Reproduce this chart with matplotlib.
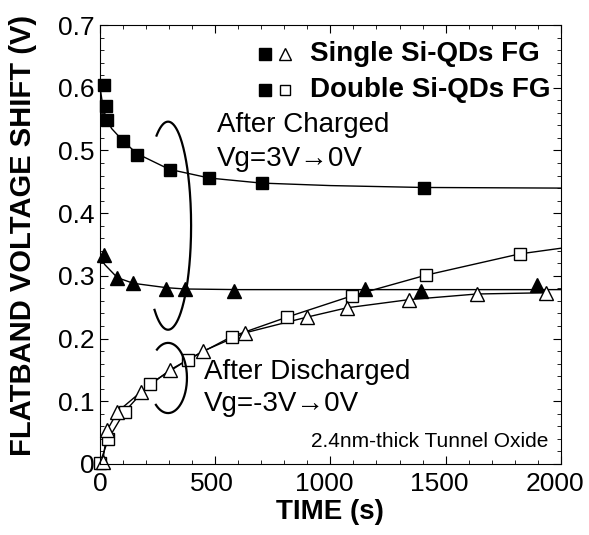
import matplotlib.pyplot as plt
import numpy as np
from matplotlib.ticker import MultipleLocator
from matplotlib.transforms import ScaledTranslation

plt.rcParams['font.family'] = ['Liberation Sans', 'DejaVu Sans']

# charged, double Si-QDs (filled squares)
t_dc = [17, 26, 31, 99, 160, 304, 474, 702, 1405]
v_dc = [0.604, 0.571, 0.549, 0.515, 0.493, 0.469, 0.456, 0.448, 0.440]
# fitted curve
fit_dc_t = [0, 10, 25, 50, 100, 160, 300, 475, 700, 1000, 1400, 2000]
fit_dc_v = [0.600, 0.575, 0.552, 0.535, 0.515, 0.495, 0.470, 0.456, 0.448, 0.444, 0.441, 0.440]

# charged, single Si-QDs (filled triangles)
t_sc = [17, 73, 143, 286, 369, 582, 1150, 1393, 1896]
v_sc = [0.333, 0.297, 0.289, 0.279, 0.279, 0.276, 0.279, 0.276, 0.285]
fit_sc_t = [0, 20, 75, 145, 290, 370, 600, 1000, 2000]
fit_sc_v = [0.330, 0.318, 0.297, 0.288, 0.281, 0.279, 0.278, 0.278, 0.278]

# discharged, single Si-QDs (open triangles)
t_sd = [11, 31, 75, 178, 304, 448, 629, 897, 1072, 1341, 1635, 1935]
v_sd = [0.003, 0.054, 0.083, 0.115, 0.150, 0.180, 0.209, 0.234, 0.249, 0.262, 0.271, 0.273]

# discharged, double Si-QDs (open squares)
t_dd = [0, 36, 106, 217, 380, 571, 811, 1093, 1414, 1822]
v_dd = [0.002, 0.040, 0.083, 0.128, 0.166, 0.203, 0.234, 0.268, 0.301, 0.335]
line_dd_t = t_dd + [2000]
line_dd_v = v_dd + [0.344]

xticks = [0, 500, 1000, 1500, 2000]
yticks = [0, 0.1, 0.2, 0.3, 0.4, 0.5, 0.6, 0.7]
ylabels = ['0', '0.1', '0.2', '0.3', '0.4', '0.5', '0.6', '0.7']

fig = plt.figure(figsize=(5.89, 5.35), dpi=100)
ax = fig.add_axes([0.170, 0.133, 0.782, 0.820])

ax.plot(fit_dc_t, fit_dc_v, color='black', lw=1)
ax.plot(fit_sc_t, fit_sc_v, color='black', lw=1)
ax.plot(line_dd_t, line_dd_v, color='black', lw=1)
ax.plot(t_sd, v_sd, color='black', lw=1)

ax.plot(t_dc, v_dc, 's', color='black', ms=9, clip_on=False)
ax.plot(t_sc, v_sc, '^', color='black', ms=10.5, clip_on=False)
ax.plot(t_dd, v_dd, 's', mfc='white', mec='black', ms=8.5, mew=1, clip_on=False)
ax.plot(t_sd, v_sd, '^', mfc='white', mec='black', ms=10.5, mew=1, clip_on=False)


# open ellipse brackets grouping the curves
def bracket(cx, cy, a, b, e1, e2):
    eta = np.radians(np.linspace(e1, e2, 200))
    ax.plot(cx + a * np.cos(eta), cy + b * np.sin(eta), color='black', lw=1.6)


bracket(295, 0.380, 100, 0.166, -126, 120)
bracket(295, 0.137, 82, 0.056, -130, 126)

ax.set_xlim(0, 2000)
ax.set_ylim(0, 0.7)
ax.xaxis.set_minor_locator(MultipleLocator(100))
ax.yaxis.set_minor_locator(MultipleLocator(0.02))
ax.set_xticks(xticks)
ax.set_yticks(yticks)
ax.set_yticklabels(ylabels)
ax.tick_params(which='both', direction='in', top=True, right=True, labelsize=19)
ax.tick_params(which='major', length=6)
ax.tick_params(which='minor', length=3)
ax.tick_params(axis='x', pad=6)
ax.tick_params(axis='y', pad=4)
# nudge the x tick labels a little left, as in the original
for lab, dx in zip(ax.get_xticklabels(), [0, -3, -6, -6, -6]):
    lab.set_transform(lab.get_transform() + ScaledTranslation(dx / 100, 0, fig.dpi_scale_trans))

ax.set_xlabel('TIME (s)', fontsize=20, fontweight='bold', labelpad=2)
ax.set_ylabel('FLATBAND VOLTAGE SHIFT (V)', fontsize=21, fontweight='bold')
ax.yaxis.set_label_coords(-0.137, 0.52)

# legend drawn by hand
ax.plot([0.358], [0.935], 's', color='black', ms=8, transform=ax.transAxes)
ax.plot([0.401], [0.935], '^', mfc='white', mec='black', ms=9, mew=1, transform=ax.transAxes)
ax.plot([0.358], [0.853], 's', color='black', ms=8, transform=ax.transAxes)
ax.plot([0.401], [0.853], 's', mfc='white', mec='black', ms=7, mew=1, transform=ax.transAxes)
ax.text(0.456, 0.935, 'Single Si-QDs FG', transform=ax.transAxes, fontsize=20,
        fontweight='bold', va='center')
ax.text(0.456, 0.853, 'Double Si-QDs FG', transform=ax.transAxes, fontsize=20,
        fontweight='bold', va='center')

ax.text(0.254, 0.772, 'After Charged', transform=ax.transAxes, fontsize=20, va='center')
ax.text(0.254, 0.695, 'Vg=3V\u21920V', transform=ax.transAxes, fontsize=20, va='center')
ax.text(0.226, 0.210, 'After Discharged', transform=ax.transAxes, fontsize=20, va='center')
ax.text(0.226, 0.137, 'Vg=-3V\u21920V', transform=ax.transAxes, fontsize=20, va='center')
ax.text(0.974, 0.050, '2.4nm-thick Tunnel Oxide', transform=ax.transAxes, fontsize=15,
        ha='right', va='center')

fig.savefig('out.png', dpi=100)
